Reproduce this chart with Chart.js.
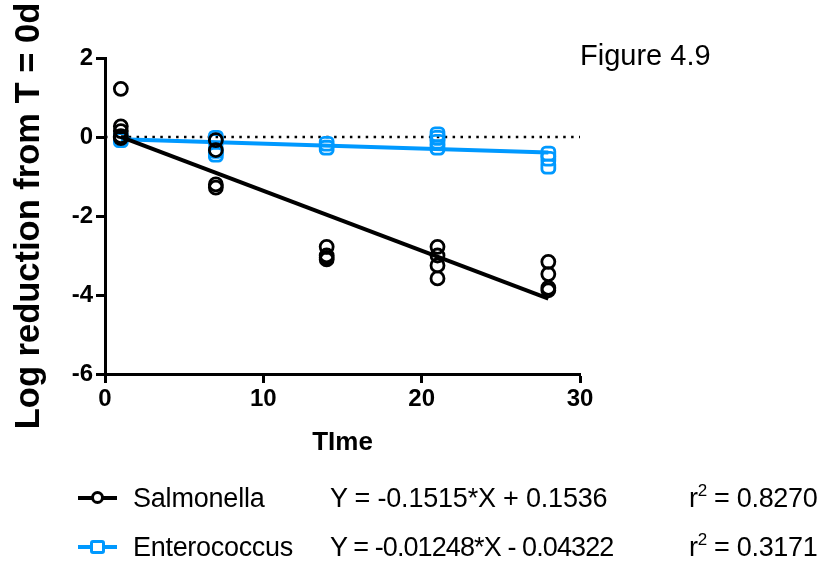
<!doctype html>
<html lang="en">
<head>
  <meta charset="utf-8" />
  <title>Figure 4.9</title>
  <script src="https://cdn.jsdelivr.net/npm/chart.js"></script>
  <style>
    body{margin:0;background:#fff;font-family:"Liberation Sans",Arial,sans-serif;color:#000}
    #wrap{position:relative;width:822px;height:562px;overflow:hidden}
    #chart{position:absolute;left:0;top:0}
    .txt{position:absolute;white-space:nowrap;line-height:27px;font-size:27px}
    .fig{position:absolute;left:580px;top:41px;font-size:29px;line-height:29px;white-space:nowrap}
    .sym{position:absolute;left:78px;width:39px;height:4px}
    .sym i{position:absolute;box-sizing:border-box;background:#fff}
    sup{font-size:17px;line-height:0;vertical-align:11px}
  </style>
</head>
<body>
<div id="wrap">
  <canvas id="chart" width="822" height="562"></canvas>
  <div class="fig">Figure 4.9</div>

  <div class="sym" style="top:496px;background:#000"><i style="left:13px;top:-5px;width:13px;height:13px;border:3px solid #000;border-radius:50%"></i></div>
  <div class="txt" style="left:133px;top:485px;letter-spacing:-0.2px">Salmonella</div>
  <div class="txt" style="left:330px;top:485px;letter-spacing:-0.2px">Y = -0.1515*X + 0.1536</div>
  <div class="txt" style="left:689px;top:485px;letter-spacing:-0.3px">r<sup>2</sup> = 0.8270</div>

  <div class="sym" style="top:545px;background:#0099ff"><i style="left:12px;top:-5px;width:15px;height:14px;border:3px solid #0099ff;border-radius:3px"></i></div>
  <div class="txt" style="left:133px;top:534px;letter-spacing:-0.3px">Enterococcus</div>
  <div class="txt" style="left:330px;top:534px;letter-spacing:-0.9px">Y = -0.01248*X - 0.04322</div>
  <div class="txt" style="left:689px;top:534px;letter-spacing:-0.3px">r<sup>2</sup> = 0.3171</div>
</div>

<script>
  // replicate values per sampling day
  const days = [1, 7, 14, 21, 28];
  const salmonella = [
    [1.22, 0.27, 0.15, 0.02, -0.03],
    [-0.08, -0.33, -1.2, -1.28],
    [-2.78, -3.0, -3.06, -3.1],
    [-2.78, -3.0, -3.25, -3.58],
    [-3.16, -3.47, -3.82, -3.88]
  ];
  const enterococcus = [
    [0.0, -0.08],
    [-0.02, -0.1, -0.35, -0.45],
    [-0.17, -0.27],
    [0.07, -0.02, -0.12, -0.27],
    [-0.42, -0.55, -0.75]
  ];
  // fitted lines, read at both ends
  const fitX = [1, 28];
  const salmonellaFit = [0.002, -4.089];
  const enterococcusFit = [-0.056, -0.393];
  // dotted reference line at y = 0
  const zeroX = [0, 30];
  const zeroY = [0, 0];

  const BLUE = '#0099ff';
  const AXIS_FONT = {family:'"Liberation Sans", Arial, sans-serif', weight:'bold'};

  function scatter(groups){
    const pts = [];
    groups.forEach((vals,i)=>vals.forEach(v=>pts.push({x:days[i], y:v})));
    return pts;
  }
  function line(xs, ys){ return xs.map((x,i)=>({x:x, y:ys[i]})); }

  const datasets = [
    {label:'Salmonella', data:scatter(salmonella), showLine:false,
     pointStyle:'circle', pointRadius:6.5, borderWidth:2.8, borderColor:'#000', backgroundColor:'transparent'},
    {label:'Salmonella fit', data:line(fitX, salmonellaFit), showLine:true,
     pointRadius:0, borderWidth:4, borderColor:'#000'},
    {label:'Enterococcus', data:scatter(enterococcus), showLine:false,
     pointStyle:'rectRounded', pointRadius:7.5, borderWidth:2.8, borderColor:BLUE, backgroundColor:'transparent'},
    {label:'Enterococcus fit', data:line(fitX, enterococcusFit), showLine:true,
     pointRadius:0, borderWidth:4, borderColor:BLUE},
    {label:'zero', data:line(zeroX, zeroY), showLine:true,
     pointRadius:0, borderWidth:2.5, borderColor:'#000', borderDash:[2.5,5.4]}
  ];

  new Chart(document.getElementById('chart'), {
    type:'scatter',
    data:{datasets:datasets},
    options:{
      responsive:false, animation:false,
      layout:{padding:{left:0, top:58, right:242, bottom:100}},
      plugins:{legend:{display:false}, tooltip:{enabled:false}},
      scales:{
        x:{
          type:'linear', min:0, max:30,
          afterFit:s=>{ s.height = 88; },
          border:{display:true, color:'#000', width:3},
          grid:{drawOnChartArea:false, drawTicks:true, tickLength:9, tickWidth:3, color:'#000'},
          ticks:{stepSize:10, color:'#000', padding:2, font:Object.assign({size:24}, AXIS_FONT)},
          title:{display:true, text:'TIme', color:'#000', padding:{top:0,bottom:4}, font:Object.assign({size:26}, AXIS_FONT)}
        },
        y:{
          min:-6, max:2,
          afterFit:s=>{ s.width = 105; },
          border:{display:true, color:'#000', width:3},
          grid:{drawOnChartArea:false, drawTicks:true, tickLength:9, tickWidth:3, color:'#000'},
          ticks:{stepSize:2, color:'#000', padding:3, font:Object.assign({size:24}, AXIS_FONT)},
          title:{display:true, text:'Log reduction from T = 0d', color:'#000', padding:{top:9,bottom:0}, font:Object.assign({size:34.5}, AXIS_FONT)}
        }
      }
    }
  });
</script>
</body>
</html>
